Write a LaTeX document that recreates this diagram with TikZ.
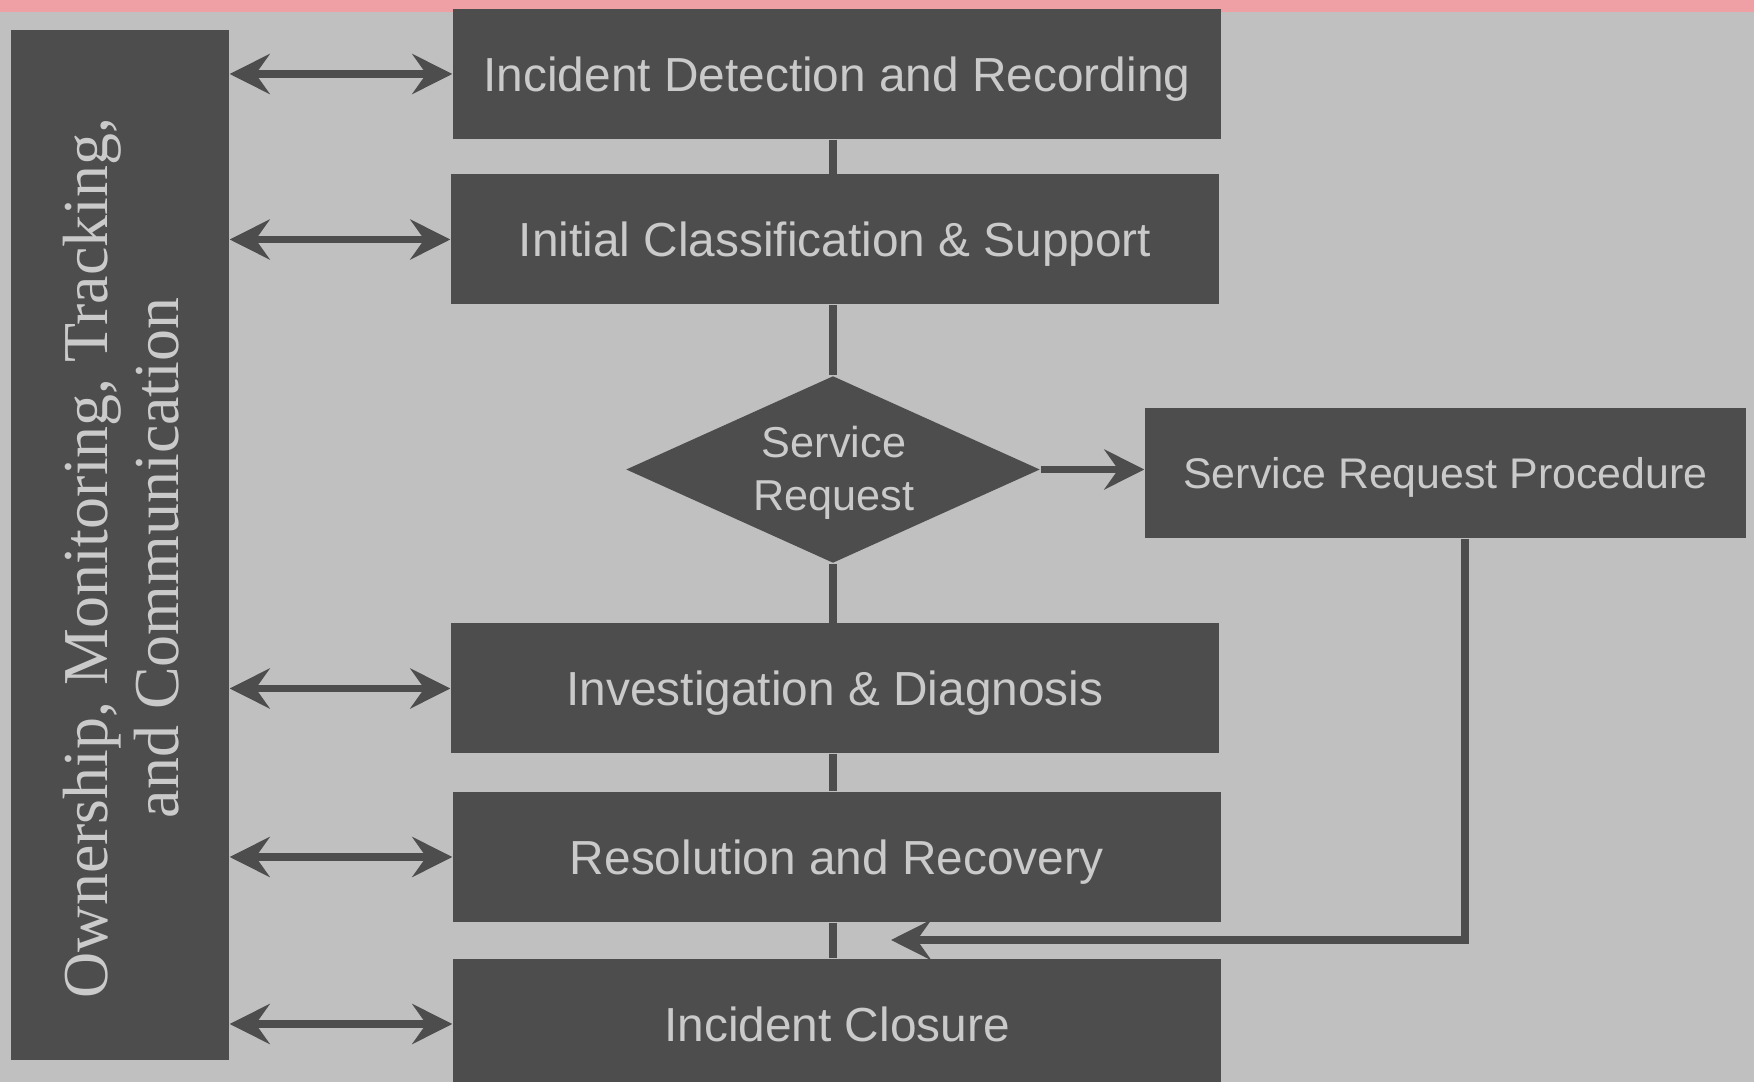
\documentclass[tikz,border=0pt]{standalone}
\usepackage{fontspec}
\setmainfont{Liberation Sans}
\newfontfamily\barfont{Liberation Serif}
\usepackage{xcolor}
\usepackage{tikz}
\usetikzlibrary{shapes.geometric,arrows.meta,calc}
\definecolor{bggray}{RGB}{192,192,192}
\definecolor{boxgray}{RGB}{77,77,77}
\definecolor{txtgray}{RGB}{202,202,202}
\definecolor{strippink}{RGB}{238,160,164}

\begin{document}
\begin{tikzpicture}[
	stage/.style={fill=boxgray,text=txtgray,minimum width=7.68cm,minimum height=1.30cm,inner sep=0pt,text depth=0pt,font=\fontsize{13.6}{16}\selectfont},
	decision/.style={diamond,fill=boxgray,text=txtgray,aspect=2.21,minimum width=4.14cm,minimum height=1.87cm,inner sep=0pt,align=center,font=\fontsize{12.3}{15}\selectfont},
	link/.style={boxgray,line width=2pt},
	oneway/.style={link,-{Stealth[length=4mm,width=4mm,inset=1.4mm]}},
	twoway/.style={link,{Stealth[length=4mm,width=4mm,inset=1.4mm]}-{Stealth[length=4mm,width=4mm,inset=1.4mm]}}]
	\useasboundingbox (0,0) rectangle (17.54,10.82);
	\fill[bggray] (0,0) rectangle (17.54,10.82);
	\fill[strippink] (0,10.70) rectangle (17.54,10.82);
	\node[fill=boxgray,minimum width=2.18cm,minimum height=10.30cm,inner sep=0pt] (owner) at (1.20,5.37) {};
	\node[text=txtgray,rotate=90,align=center,font=\barfont\fontsize{18.2}{20}\selectfont] (ownertext) at (1.21,5.24) {Ownership, Monitoring, Tracking,\\and Communication};
	\node[stage] (detect) at (8.37,10.08) {Incident Detection and Recording};
	\node[stage] (classify) at (8.35,8.425) {Initial Classification \& Support};
	\node[decision] (request) at (8.33,6.125) {};
	\node[text=txtgray,align=center,font=\fontsize{12.3}{15}\selectfont] (requesttext) at (8.34,6.09) {Service\\Request};
	\node[stage,minimum width=6.01cm,font=\fontsize{12.2}{14}\selectfont] (procedure) at (14.455,6.09) {Service Request Procedure};
	\node[stage] (diagnose) at (8.35,3.935) {Investigation \& Diagnosis};
	\node[stage] (resolve) at (8.37,2.25) {Resolution and Recovery};
	\node[stage] (closure) at (8.37,0.58) {Incident Closure};
	\coordinate (bend) at (14.65,1.42);
	\coordinate (back) at (8.91,1.42);
	\draw[link] (detect.south -| request) -- (classify.north -| request);
	\draw[link] (classify.south -| request) -- (request.north);
	\draw[link] (request.south) -- (diagnose.north -| request);
	\draw[link] (diagnose.south -| request) -- (resolve.north -| request);
	\draw[link] (resolve.south -| request) -- (closure.north -| request);
	\draw[oneway] (request.east) -- (request.east -| procedure.west);
	\draw[oneway] (procedure.south -| bend) -- (bend) -- (back);
	\draw[twoway] (detect.west -| owner.east) -- (detect.west);
	\draw[twoway] (classify.west -| owner.east) -- (classify.west);
	\draw[twoway] (diagnose.west -| owner.east) -- (diagnose.west);
	\draw[twoway] (resolve.west -| owner.east) -- (resolve.west);
	\draw[twoway] (closure.west -| owner.east) -- (closure.west);
\end{tikzpicture}
\end{document}
